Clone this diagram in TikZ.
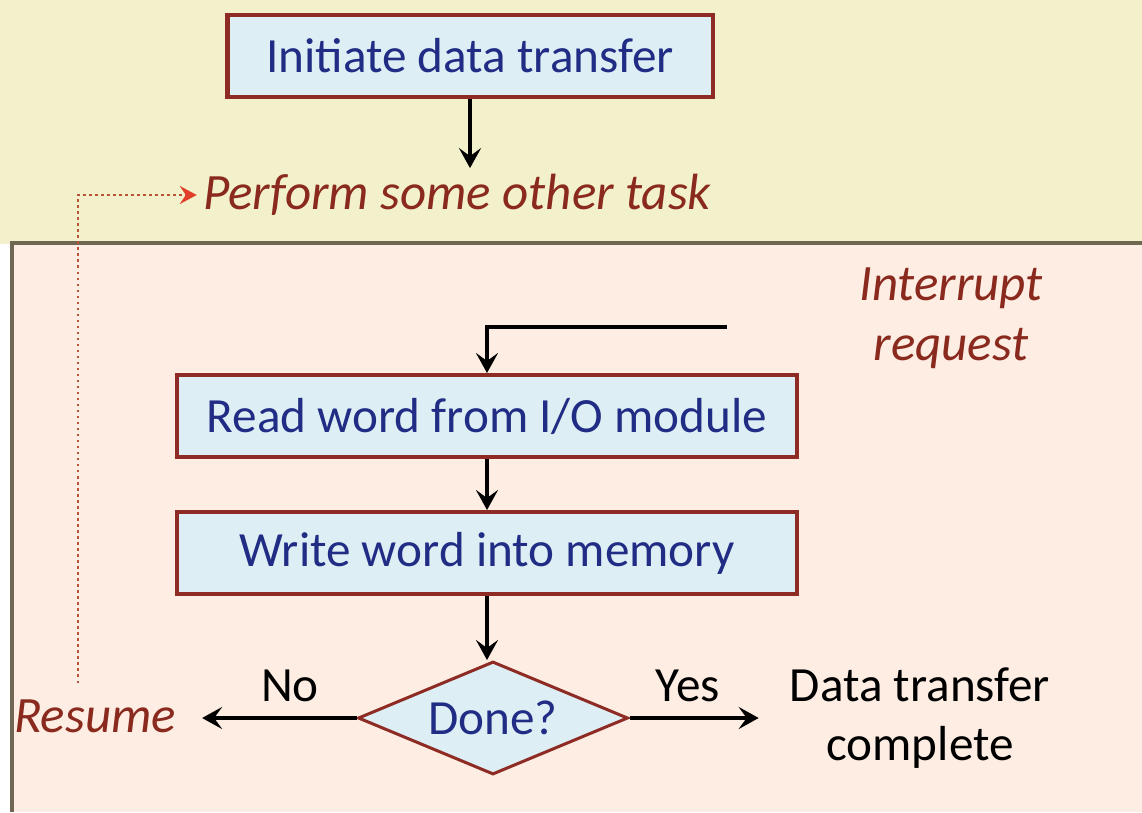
\documentclass[tikz,border=0pt]{standalone}
\usepackage{fontspec}
\setmainfont{Carlito}
\usetikzlibrary{shapes.geometric,positioning,arrows.meta}
\tikzset{>={Stealth[length=4mm,width=4.4mm,inset=1.6mm]}}

\definecolor{bandyellow}{HTML}{F3F1CB}
\definecolor{bandpeach}{HTML}{FDEDE2}
\definecolor{edgegrey}{HTML}{6F6752}
\definecolor{boxfill}{HTML}{DDEFF5}
\definecolor{boxedge}{HTML}{8E2B24}
\definecolor{textblue}{HTML}{212C85}
\definecolor{notered}{HTML}{8A2A1E}
\definecolor{dotred}{HTML}{B85438}
\definecolor{tipred}{HTML}{E0402A}

\tikzset{
  procbox/.style={draw=boxedge, line width=0.8mm, fill=boxfill, text=textblue,
    minimum height=16.4mm, font=\fontsize{28}{33}\selectfont},
  decision/.style={diamond, draw=boxedge, line width=0.6mm, fill=boxfill, text=textblue,
    aspect=2.4, inner sep=0pt, minimum width=54mm, minimum height=22.6mm,
    font=\fontsize{28}{33}\selectfont},
  note/.style={text=notered, font=\fontsize{29}{34}\selectfont\itshape},
  plain/.style={text=black, font=\fontsize{28}{34}\selectfont},
  flow/.style={->, line width=0.75mm, black},
  backlink/.style={-{Stealth[length=3.4mm,width=3.6mm,inset=1.2mm,tipred]}, dotted,
    line width=0.5mm, dotred}
}

\begin{document}
\begin{tikzpicture}[x=0.2mm, y=-0.2mm]
\useasboundingbox (0,0) rectangle (1142,812);
% background bands
\fill[bandyellow] (0,0) rectangle (1142,244);
\fill[white] (0,244) rectangle (1142,812);
\fill[bandpeach] (12,244) rectangle (1142,812);
\draw[edgegrey, line width=0.8mm] (12,812) -- (12,243) -- (1142,243);

% steps
\node[procbox, minimum width=97mm] (init) at (470,56) {Initiate data transfer};
\node[note] (other) at (457,195) {Perform some other task};
\node[note, align=center] (irq) at (951,318) {Interrupt\\request};
\node[procbox, minimum width=124mm] (read) at (487,416) {Read word from I/O module};
\node[procbox, minimum width=124mm] (write) at (487,553) {Write word into memory};
\node[decision] (done) at (493,718) {Done?};
\node[note] (resume) at (95,716) {Resume};
\node[plain, align=center] (complete) at (920,718) {Data transfer\\complete};
\node[plain] (nolab) at (290,686) {No};
\node[plain] (yeslab) at (688,686) {Yes};
\coordinate (irqin) at (727,327);
\coordinate (back) at (78,683);

% connectors
\draw[flow] (init.south) -- (init.south |- other.north);
\draw[flow] (irqin) -| (read.north);
\draw[flow] (read) -- (write);
\draw[flow] (write.south) -- (write.south |- done.north);
\draw[flow, shorten >=4mm] (done.west) -- (done.west -| resume.east);
\draw[flow, shorten >=5mm] (done.east) -- (done.east -| complete.west);
\draw[backlink] (back) |- (other.west);
\end{tikzpicture}
\end{document}
